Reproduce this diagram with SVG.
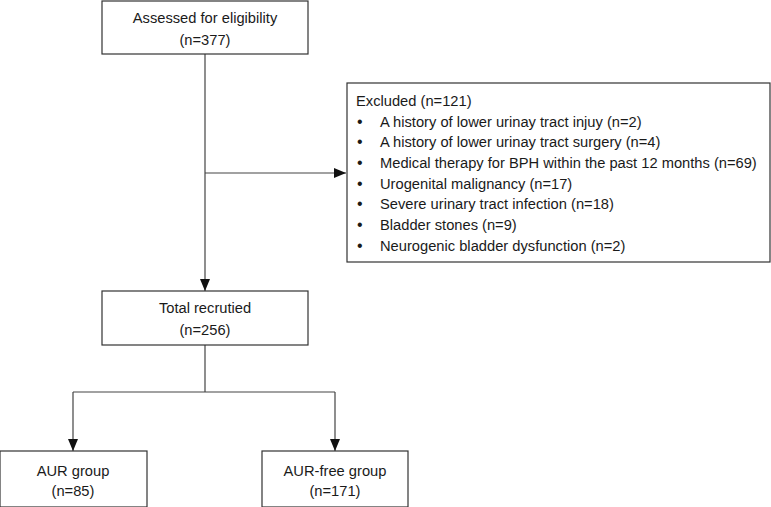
<svg xmlns="http://www.w3.org/2000/svg" width="771" height="507" viewBox="0 0 771 507">
<style>
.box{fill:#fff;stroke:#333;stroke-width:1.2}
.t{font-family:"Liberation Sans",Arial,sans-serif;font-size:14.7px;fill:#1a1a1a}
.c{text-anchor:middle}
.b{font-size:16px}
.ln{fill:none;stroke:#444;stroke-width:1.2}
</style>
<defs>
<marker id="ah" viewBox="0 0 12 10" refX="12" refY="5" markerWidth="12" markerHeight="10" markerUnits="userSpaceOnUse" orient="auto">
<path d="M0,0 L12,5 L0,10 z" fill="#111"/>
</marker>
</defs>
<g id="connectors">
<line class="ln" x1="205" y1="54" x2="205" y2="291" marker-end="url(#ah)"/>
<line class="ln" x1="205" y1="173" x2="346" y2="173" marker-end="url(#ah)"/>
<path class="ln" d="M205,345 V392"/>
<path class="ln" d="M73,392 H335"/>
<line class="ln" x1="73" y1="392" x2="73" y2="451" marker-end="url(#ah)"/>
<line class="ln" x1="335" y1="392" x2="335" y2="451" marker-end="url(#ah)"/>
</g>
<g id="assessed">
<rect class="box" x="102" y="1" width="206" height="53"/>
<text class="t c" x="205" y="23">Assessed for eligibility</text>
<text class="t c" x="205" y="45">(n=377)</text>
</g>
<g id="excluded">
<rect class="box" x="347" y="83" width="423" height="179"/>
<text class="t" x="356" y="106">Excluded (n=121)</text>
<g class="t">
<text class="b" x="357" y="127">•</text><text x="380" y="127">A history of lower urinay tract injuy (n=2)</text>
<text class="b" x="357" y="147">•</text><text x="380" y="147">A history of lower urinay tract surgery (n=4)</text>
<text class="b" x="357" y="168">•</text><text x="380" y="168">Medical therapy for BPH within the past 12 months (n=69)</text>
<text class="b" x="357" y="189">•</text><text x="380" y="189">Urogenital malignancy (n=17)</text>
<text class="b" x="357" y="209">•</text><text x="380" y="209">Severe urinary tract infection (n=18)</text>
<text class="b" x="357" y="230">•</text><text x="380" y="230">Bladder stones (n=9)</text>
<text class="b" x="357" y="251">•</text><text x="380" y="251">Neurogenic bladder dysfunction (n=2)</text>
</g>
</g>
<g id="total">
<rect class="box" x="102" y="291" width="206" height="54"/>
<text class="t c" x="205" y="313">Total recrutied</text>
<text class="t c" x="205" y="335">(n=256)</text>
</g>
<g id="aur">
<rect class="box" x="0" y="451" width="147" height="56"/>
<text class="t c" x="73" y="476">AUR group</text>
<text class="t c" x="73" y="496">(n=85)</text>
</g>
<g id="aurfree">
<rect class="box" x="262" y="451" width="146" height="56"/>
<text class="t c" x="335" y="476">AUR-free group</text>
<text class="t c" x="335" y="496">(n=171)</text>
</g>
</svg>
